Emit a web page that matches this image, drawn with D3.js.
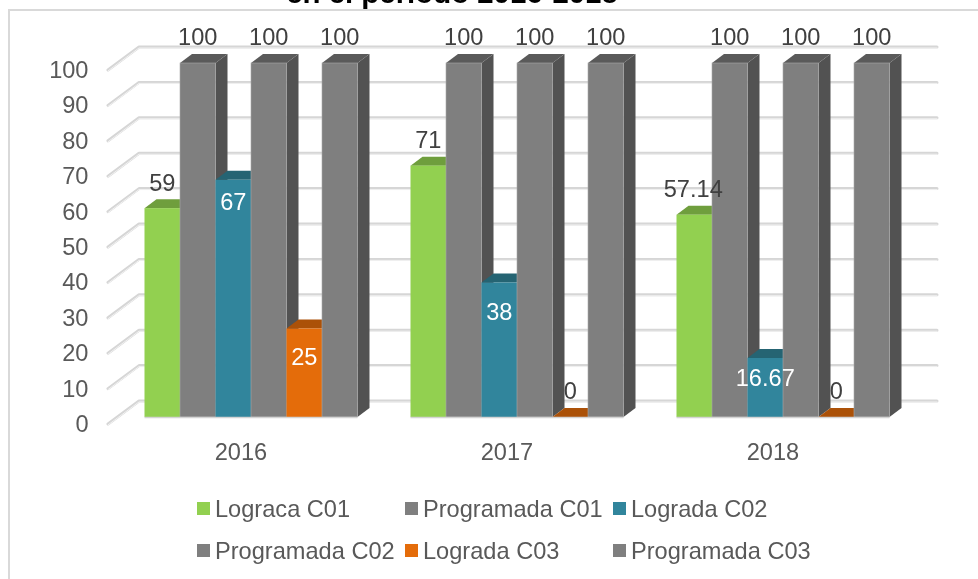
<!DOCTYPE html>
<html><head><meta charset="utf-8">
<script src="https://cdn.jsdelivr.net/npm/d3@7"></script>
<style>html,body{margin:0;padding:0;background:#fff;overflow:hidden}svg{display:block;filter:blur(0.35px)}text{font-family:"Liberation Sans",Arial,sans-serif}</style>
</head><body><svg id="c" width="978" height="579"></svg>
<script>
const years = ["2016","2017","2018"];
const seriesNames = ["Logra\u0063a C01","Programada C01","Lograda C02","Programada C02","Lograda C03","Programada C03"];
const logradaC01 = [59,71,57.14];
const programadaC01 = [100,100,100];
const logradaC02 = [67,38,16.67];
const programadaC02 = [100,100,100];
const logradaC03 = [25,0,0];
const programadaC03 = [100,100,100];
const valueTicks = [0,10,20,30,40,50,60,70,80,90,100];
const seriesValues = [logradaC01,programadaC01,logradaC02,programadaC02,logradaC03,programadaC03];
const frontColors = ["#92d050","#7f7f7f","#31859c","#7f7f7f","#e46c0a","#7f7f7f"];
const topColors = ["#6f9e3d","#5a5a5a","#256473","#5a5a5a","#ab5108","#5a5a5a"];
const sideColors = ["#5f8a35","#525252","#1f5562","#525252","#8f4406","#525252"];

const svg = d3.select("#c");
const TXT = "#595959";
const FS = 23.6;
svg.append("rect").attr("x",9).attr("y",10).attr("width",1100).attr("height",700)
  .attr("fill","#fff").attr("stroke","#d9d9d9").attr("stroke-width",2);
svg.append("text").attr("x",452).attr("y",3).attr("text-anchor","middle")
  .attr("font-size",29.4).attr("font-weight","bold").attr("fill","#000").text("en el periodo 2016-2018");

const y = d3.scaleLinear().domain([0,100]).range([417,63]);
const x0 = d3.scaleBand().domain(years).range([108,906]);
const x1 = d3.scaleBand().domain(d3.range(6)).range([0,213]);
const groupShift = 36.5;
const depthX = 12, depthY = 9;
const wallX = 31, wallY = 23;
const wallFront = 7;

const grid = svg.append("g");
valueTicks.forEach(t=>{
  const yf = y(t)+wallFront, yb = yf-wallY;
  const pts = [[108,yf],[108+wallX,yb],[108+wallX+798,yb]];
  const line = d3.line();
  grid.append("path").attr("d",line(pts)).attr("fill","none").attr("stroke","#d6d6d6").attr("stroke-width",3).attr("stroke-linecap","round").attr("stroke-linejoin","round");
  grid.append("path").attr("d",line(pts)).attr("fill","none").attr("stroke","#f2f2f2").attr("stroke-width",1).attr("stroke-linecap","round").attr("transform","translate(0,1)");
});

const yAxis = d3.axisLeft(y).tickValues(valueTicks).tickSize(0).tickPadding(0);
const ga = svg.append("g").attr("transform","translate(88.5,7)").call(yAxis);
ga.select(".domain").remove();
ga.selectAll("text").attr("font-size",FS).attr("fill",TXT).style("font-family",'"Liberation Sans"');
const xAxis = d3.axisBottom(x0).tickSize(0).tickPadding(0);
const gx = svg.append("g").attr("transform","translate(0,441)").call(xAxis);
gx.select(".domain").remove();
gx.selectAll("text").attr("font-size",FS).attr("fill",TXT).attr("dy","0.8em").style("font-family",'"Liberation Sans"');

const flat = [];
years.forEach((yr,i)=>seriesValues.forEach((vals,s)=>flat.push({yr,i,s,v:vals[i]})));
const bars = svg.append("g");
const bx = d=>x0(d.yr)+groupShift+x1(d.s);
const bw = x1.bandwidth();
flat.forEach(d=>{
  const l=bx(d), r=l+bw, t=y(d.v), b=y(0);
  const g=bars.append("g");
  g.append("path").attr("d",`M${r},${t}L${r+depthX},${t-depthY}L${r+depthX},${b-depthY}L${r},${b}Z`).attr("fill",sideColors[d.s]);
  g.append("path").attr("d",`M${l},${t}L${l+depthX},${t-depthY}L${r+depthX},${t-depthY}L${r},${t}Z`).attr("fill",topColors[d.s]);
  g.append("rect").attr("x",l).attr("y",t).attr("width",bw).attr("height",Math.max(0,b-t)).attr("fill",frontColors[d.s]);
  if(d.s%2===1) g.append("rect").attr("x",l).attr("y",t).attr("width",bw).attr("height",b-t).attr("fill","none").attr("stroke","#a8a8a8").attr("stroke-width",.6);
});
years.forEach(yr=>bars.append("line").attr("x1",x0(yr)+groupShift).attr("x2",x0(yr)+groupShift+213).attr("y1",y(0)+.5).attr("y2",y(0)+.5).attr("stroke","#d4d4d4").attr("stroke-width",1.5));

const insideNudge = new Map([["2016-2",22],["2016-4",28],["2017-2",29],["2018-2",20]]);
flat.forEach(d=>{
  const key=d.yr+"-"+d.s, inside=insideNudge.has(key);
  svg.append("text").attr("x",bx(d)+bw/2-(d.v===57.14?1:0)).attr("y",y(d.v)+(inside?insideNudge.get(key):-26)).attr("dy","0.36em")
    .attr("text-anchor","middle").attr("font-size",FS).attr("fill",inside?"#fff":"#404040").text(d.v);
});

const legendCols=[197,405,613], legendRows=[508.5,550.5];
seriesNames.forEach((n,i)=>{
  const cx=legendCols[i%3], cy=legendRows[Math.floor(i/3)];
  svg.append("rect").attr("x",cx).attr("y",cy-6.5).attr("width",13).attr("height",13).attr("fill",frontColors[i]);
  svg.append("text").attr("x",cx+18).attr("y",cy).attr("dy","0.36em").attr("font-size",FS).attr("fill",TXT).text(n);
});
</script></body></html>
